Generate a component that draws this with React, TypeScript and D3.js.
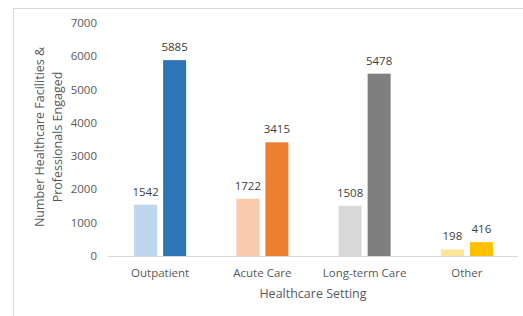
import { useEffect, useRef } from "react";
import * as d3 from "d3";

const categories = ["Outpatient", "Acute Care", "Long-term Care", "Other"];
const facilities = [1542, 1722, 1508, 198];
const professionals = [5885, 3415, 5478, 416];
const lightColors = ["#BDD7EE", "#F8CBAD", "#D9D9D9", "#FFE699"];
const darkColors = ["#2E75B6", "#ED7D31", "#7F7F7F", "#FFC000"];
const yTicks = [0, 1000, 2000, 3000, 4000, 5000, 6000, 7000];

const FONT = "'Open Sans', sans-serif";

const App = () => {
  const svgRef = useRef<SVGSVGElement | null>(null);

  useEffect(() => {
    const svg = d3.select(svgRef.current);
    svg.selectAll("*").remove();

    const width = 523;
    const height = 316;

    // chart frame (only top and left edges visible)
    svg
      .append("path")
      .attr("d", `M13.5,${height} V8.5 H${width}`)
      .attr("fill", "none")
      .attr("stroke", "#D9D9D9")
      .attr("stroke-width", 1);

    const x = d3.scaleBand().domain(categories).range([109, 518]);
    const y = d3.scaleLinear().domain([0, 7000]).range([256, 23]);

    const barW = 23;
    const gap = 6;

    // y tick labels
    svg
      .append("g")
      .selectAll("text")
      .data(yTicks)
      .enter()
      .append("text")
      .attr("x", 97)
      .attr("y", (d) => y(d))
      .attr("dy", "0.35em")
      .attr("text-anchor", "end")
      .attr("font-family", FONT)
      .attr("font-size", 11.5)
      .attr("fill", "#595959")
      .text((d) => d);

    const groups = svg
      .append("g")
      .selectAll("g")
      .data(categories)
      .enter()
      .append("g");

    const series = [
      { values: facilities, colors: lightColors, offset: -gap / 2 - barW },
      { values: professionals, colors: darkColors, offset: gap / 2 },
    ];

    series.forEach((s) => {
      groups
        .append("rect")
        .attr("x", (c) => (x(c) as number) + x.bandwidth() / 2 + s.offset)
        .attr("y", (_, i) => y(s.values[i]))
        .attr("width", barW)
        .attr("height", (_, i) => y(0) - y(s.values[i]))
        .attr("fill", (_, i) => s.colors[i]);

      groups
        .append("text")
        .attr(
          "x",
          (c) => (x(c) as number) + x.bandwidth() / 2 + s.offset + barW / 2
        )
        .attr("y", (_, i) => y(s.values[i]) - 9)
        .attr("text-anchor", "middle")
        .attr("font-family", FONT)
        .attr("font-size", 11.5)
        .attr("fill", "#404040")
        .text((_, i) => s.values[i]);
    });

    // baseline
    svg
      .append("line")
      .attr("x1", 108)
      .attr("x2", 518)
      .attr("y1", y(0) + 0.5)
      .attr("y2", y(0) + 0.5)
      .attr("stroke", "#D9D9D9");

    // category labels
    svg
      .append("g")
      .selectAll("text")
      .data(categories)
      .enter()
      .append("text")
      .attr("x", (c) => (x(c) as number) + x.bandwidth() / 2)
      .attr("y", 277)
      .attr("text-anchor", "middle")
      .attr("font-family", FONT)
      .attr("font-size", 11.5)
      .attr("fill", "#595959")
      .text((c) => c);

    // axis titles
    svg
      .append("text")
      .attr("x", 313)
      .attr("y", 298)
      .attr("text-anchor", "middle")
      .attr("font-family", FONT)
      .attr("font-size", 12.5)
      .attr("fill", "#595959")
      .text("Healthcare Setting");

    const yTitle = svg
      .append("text")
      .attr("transform", "translate(0,137) rotate(-90)")
      .attr("text-anchor", "middle")
      .attr("font-family", FONT)
      .attr("font-size", 12.5)
      .attr("fill", "#595959");
    yTitle.append("tspan").attr("x", 0).attr("y", 44).text("Number Healthcare Facilities &");
    yTitle.append("tspan").attr("x", 0).attr("y", 62).text("Professionals Engaged");
  }, []);

  return (
    <svg
      ref={svgRef}
      width={523}
      height={316}
      style={{ position: "absolute", left: 0, top: 0, background: "#fff" }}
    />
  );
};

export default App;
